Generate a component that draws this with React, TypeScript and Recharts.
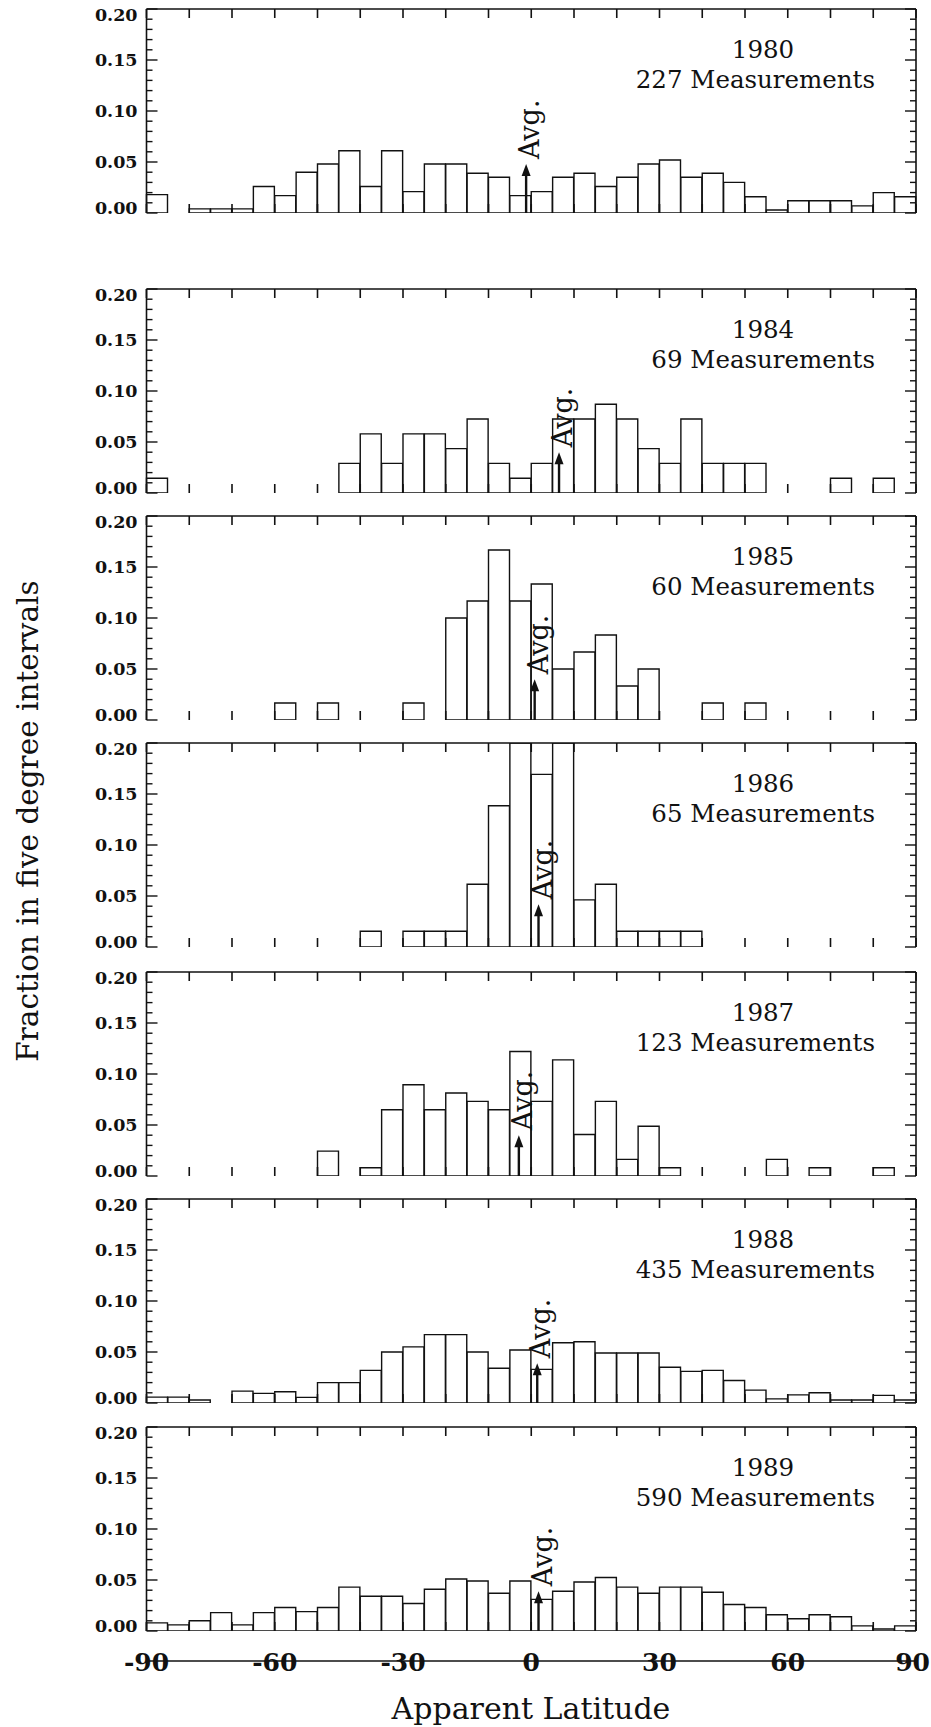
import React from 'react';
import { BarChart, Bar, XAxis, YAxis, ReferenceLine } from 'recharts';

// Five-degree latitude bins (bin centres), -90 .. 90
const BIN_CENTERS = [
  -87.5, -82.5, -77.5, -72.5, -67.5, -62.5, -57.5, -52.5, -47.5, -42.5, -37.5, -32.5,
  -27.5, -22.5, -17.5, -12.5, -7.5, -2.5, 2.5, 7.5, 12.5, 17.5, 22.5, 27.5,
  32.5, 37.5, 42.5, 47.5, 52.5, 57.5, 62.5, 67.5, 72.5, 77.5, 82.5, 87.5,
];

const LAT_TICKS = [-90, -80, -70, -60, -50, -40, -30, -20, -10, 0, 10, 20, 30, 40, 50, 60, 70, 80, 90];
const LAT_LABELS = [-90, -60, -30, 0, 30, 60, 90];
const FRACTION_TICKS = [
  0, 0.01, 0.02, 0.03, 0.04, 0.05, 0.06, 0.07, 0.08, 0.09, 0.1,
  0.11, 0.12, 0.13, 0.14, 0.15, 0.16, 0.17, 0.18, 0.19, 0.2,
];
const FRACTION_LABELS = [0, 0.05, 0.1, 0.15, 0.2];

const YEARS = [1980, 1984, 1985, 1986, 1987, 1988, 1989];
const MEASUREMENTS = [227, 69, 60, 65, 123, 435, 590];
const AVG_LATITUDE = [-1.2, 6.5, 0.8, 1.7, -2.9, 1.4, 1.7];
const AVG_ARROW_TOP = [0.048, 0.04, 0.04, 0.042, 0.04, 0.039, 0.039];

const FRAC_1980 = [
  0.018, 0, 0.004, 0.004, 0.004, 0.026,
  0.017, 0.04, 0.048, 0.061, 0.026, 0.061,
  0.021, 0.048, 0.048, 0.039, 0.035, 0.017,
  0.021, 0.035, 0.039, 0.026, 0.035, 0.048,
  0.052, 0.035, 0.039, 0.03, 0.016, 0.003,
  0.012, 0.012, 0.012, 0.007, 0.02, 0.016,
];
const FRAC_1984 = [
  0.0145, 0, 0, 0, 0, 0,
  0, 0, 0, 0.029, 0.058, 0.029,
  0.058, 0.058, 0.0435, 0.0725, 0.029, 0.0145,
  0.029, 0.0725, 0.0725, 0.087, 0.0725, 0.0435,
  0.029, 0.0725, 0.029, 0.029, 0.029, 0,
  0, 0, 0.0145, 0, 0.0145, 0,
];
const FRAC_1985 = [
  0, 0, 0, 0, 0, 0,
  0.0167, 0, 0.0167, 0, 0, 0,
  0.0167, 0, 0.1, 0.1167, 0.1667, 0.1167,
  0.1333, 0.05, 0.0667, 0.0833, 0.0333, 0.05,
  0, 0, 0.0167, 0, 0.0167, 0,
  0, 0, 0, 0, 0, 0,
];
const FRAC_1986 = [
  0, 0, 0, 0, 0, 0,
  0, 0, 0, 0, 0.0154, 0,
  0.0154, 0.0154, 0.0154, 0.0615, 0.1385, 0.2,
  0.1692, 0.2, 0.0462, 0.0615, 0.0154, 0.0154,
  0.0154, 0.0154, 0, 0, 0, 0,
  0, 0, 0, 0, 0, 0,
];
const FRAC_1987 = [
  0, 0, 0, 0, 0, 0,
  0, 0, 0.0244, 0, 0.0081, 0.065,
  0.0894, 0.065, 0.0813, 0.0732, 0.065, 0.122,
  0.0732, 0.1138, 0.0407, 0.0732, 0.0163, 0.0488,
  0.0081, 0, 0, 0, 0, 0.0163,
  0, 0.0081, 0, 0, 0.0081, 0,
];
const FRAC_1988 = [
  0.0058, 0.0058, 0.003, 0, 0.0116, 0.0094,
  0.011, 0.0055, 0.02, 0.02, 0.032, 0.05,
  0.055, 0.067, 0.067, 0.05, 0.034, 0.052,
  0.033, 0.059, 0.06, 0.049, 0.049, 0.049,
  0.035, 0.031, 0.032, 0.022, 0.0126, 0.004,
  0.008, 0.01, 0.003, 0.003, 0.0075, 0.003,
];
const FRAC_1989 = [
  0.008, 0.006, 0.01, 0.018, 0.006, 0.018,
  0.023, 0.019, 0.023, 0.043, 0.034, 0.034,
  0.027, 0.041, 0.051, 0.049, 0.037, 0.049,
  0.031, 0.039, 0.048, 0.0525, 0.043, 0.037,
  0.043, 0.043, 0.038, 0.026, 0.023, 0.016,
  0.012, 0.016, 0.014, 0.005, 0.002, 0.005,
];

const SERIES = [FRAC_1980, FRAC_1984, FRAC_1985, FRAC_1986, FRAC_1987, FRAC_1988, FRAC_1989];

// Page layout
const PAGE_W = 931;
const PAGE_H = 1727;
const PLOT_LEFT = 146.5;
const PLOT_RIGHT = 916;
const PLOT_H = 204;
const PANEL_TOPS = [9, 288.5, 515.5, 742.5, 971.5, 1199, 1427];
const PAD_TOP = 20;
const TOP_AXIS_H = 10;
const Y_AXIS_W = 60;
const RIGHT_AXIS_W = 10;
const FONT = "'DejaVu Serif', serif";
const INK = '#111';
const X_LABEL_SIZE = 25;

function Panel({ index }: { index: number }) {
  const values = SERIES[index];
  const data = BIN_CENTERS.map((lat, i) => ({ lat, frac: values[i] }));
  const last = index === SERIES.length - 1;
  const bottomAxisH = last ? 70 : 10;
  const height = PAD_TOP + PLOT_H + bottomAxisH + 10;
  const plotTop = PAD_TOP;
  const plotBottom = PAD_TOP + PLOT_H;

  const leftTick = (p: any) => {
    const v = p.payload.value;
    const major = FRACTION_LABELS.some((m) => Math.abs(m - v) < 1e-6);
    const len = major ? 11 : 6;
    let dy = 0;
    if (Math.abs(v) < 1e-6) dy = -5;
    if (Math.abs(v - 0.2) < 1e-6) dy = 6;
    return (
      <g>
        <line x1={PLOT_LEFT} x2={PLOT_LEFT + len} y1={p.y} y2={p.y} stroke={INK} strokeWidth={1.4} />
        {major && (
          <text x={PLOT_LEFT - 9} y={p.y + dy} textAnchor="end" dominantBaseline="central"
            fontFamily={FONT} fontWeight="bold" fontSize={17.5} fill={INK}>
            {v.toFixed(2)}
          </text>
        )}
      </g>
    );
  };

  const rightTick = (p: any) => {
    const v = p.payload.value;
    const major = FRACTION_LABELS.some((m) => Math.abs(m - v) < 1e-6);
    const len = major ? 11 : 6;
    return <line x1={PLOT_RIGHT} x2={PLOT_RIGHT - len} y1={p.y} y2={p.y} stroke={INK} strokeWidth={1.4} />;
  };

  const topTick = (p: any) => (
    <line x1={p.x} x2={p.x} y1={plotTop} y2={plotTop + 9} stroke={INK} strokeWidth={1.6} />
  );

  const bottomTick = (p: any) => {
    const v = p.payload.value;
    const labelled = last && LAT_LABELS.includes(v);
    // keep the right-most label inside the page edge
    const atRightEdge = p.x + X_LABEL_SIZE * 0.72 > PAGE_W;
    return (
      <g>
        <line x1={p.x} x2={p.x} y1={plotBottom} y2={plotBottom - 9} stroke={INK} strokeWidth={1.6} />
        {labelled && (
          <text x={atRightEdge ? PAGE_W - 1 : p.x} y={plotBottom + 31}
            textAnchor={atRightEdge ? 'end' : 'middle'} dominantBaseline="central"
            fontFamily={FONT} fontWeight="bold" fontSize={X_LABEL_SIZE} fill={INK}>
            {String(v)}
          </text>
        )}
      </g>
    );
  };

  const avgShape = (p: any) => {
    const x = p.x1;
    const top = Math.min(p.y1, p.y2);
    const bottom = Math.max(p.y1, p.y2);
    const tx = x + 13;
    const ty = top - 5;
    return (
      <g>
        <line x1={x} x2={x} y1={bottom} y2={top + 8} stroke={INK} strokeWidth={2.4} />
        <polygon points={`${x},${top} ${x - 4.5},${top + 12} ${x + 4.5},${top + 12}`} fill={INK} />
        <text x={tx} y={ty} transform={`rotate(-90, ${tx}, ${ty})`} textAnchor="start"
          fontFamily={FONT} fontSize={27} fill={INK}>
          Avg.
        </text>
      </g>
    );
  };

  return (
    <div style={{ position: 'absolute', left: 0, top: PANEL_TOPS[index] - PAD_TOP }}>
      <BarChart
        width={PAGE_W}
        height={height}
        data={data}
        barCategoryGap={0}
        barGap={0}
        margin={{
          top: PAD_TOP - TOP_AXIS_H,
          left: PLOT_LEFT - Y_AXIS_W,
          right: PAGE_W - PLOT_RIGHT - RIGHT_AXIS_W,
          bottom: 10,
        }}
      >
        <XAxis xAxisId="bins" dataKey="lat" type="category" hide />
        <XAxis
          xAxisId="lat"
          dataKey="lat"
          type="number"
          orientation="bottom"
          domain={[-90, 90]}
          ticks={LAT_TICKS}
          interval={0}
          allowDataOverflow
          height={bottomAxisH}
          tickLine={false}
          axisLine={{ stroke: INK, strokeWidth: 1.6 }}
          tick={bottomTick}
        />
        <XAxis
          xAxisId="latTop"
          dataKey="lat"
          type="number"
          orientation="top"
          domain={[-90, 90]}
          ticks={LAT_TICKS}
          interval={0}
          allowDataOverflow
          height={TOP_AXIS_H}
          tickLine={false}
          axisLine={{ stroke: INK, strokeWidth: 1.6 }}
          tick={topTick}
        />
        <YAxis
          yAxisId="left"
          type="number"
          domain={[0, 0.2]}
          ticks={FRACTION_TICKS}
          interval={0}
          allowDataOverflow
          width={Y_AXIS_W}
          tickLine={false}
          axisLine={{ stroke: INK, strokeWidth: 1.6 }}
          tick={leftTick}
        />
        <YAxis
          yAxisId="right"
          orientation="right"
          type="number"
          domain={[0, 0.2]}
          ticks={FRACTION_TICKS}
          interval={0}
          allowDataOverflow
          width={RIGHT_AXIS_W}
          tickLine={false}
          axisLine={{ stroke: INK, strokeWidth: 1.6 }}
          tick={rightTick}
        />
        <Bar
          xAxisId="bins"
          yAxisId="left"
          dataKey="frac"
          fill="#fff"
          stroke={INK}
          strokeWidth={1.4}
          isAnimationActive={false}
        />
        <ReferenceLine
          xAxisId="lat"
          yAxisId="left"
          segment={[
            { x: AVG_LATITUDE[index], y: 0 },
            { x: AVG_LATITUDE[index], y: AVG_ARROW_TOP[index] },
          ]}
          stroke={INK}
          shape={avgShape}
        />
      </BarChart>
      <div
        style={{
          position: 'absolute', left: 763 - 100, top: PAD_TOP + 41 - 15, width: 200, height: 30,
          lineHeight: '30px', textAlign: 'center', fontFamily: FONT, fontSize: 24.5, color: INK,
        }}
      >
        {YEARS[index]}
      </div>
      <div
        style={{
          position: 'absolute', left: 875 - 400, top: PAD_TOP + 71 - 15, width: 400, height: 30,
          lineHeight: '30px', textAlign: 'right', fontFamily: FONT, fontSize: 24.5, color: INK,
          whiteSpace: 'nowrap',
        }}
      >
        {MEASUREMENTS[index]} Measurements
      </div>
    </div>
  );
}

export default function App() {
  return (
    <div style={{ position: 'relative', width: PAGE_W, height: PAGE_H, background: '#fff', overflow: 'hidden' }}>
      <style>{'body{margin:0;background:#fff}'}</style>
      {SERIES.map((_, i) => (
        <Panel key={YEARS[i]} index={i} />
      ))}
      <div
        style={{
          position: 'absolute', left: 27.5 - 350, top: 821 - 20, width: 700, height: 40,
          lineHeight: '40px', textAlign: 'center', transform: 'rotate(-90deg)',
          fontFamily: FONT, fontSize: 29.5, color: INK, whiteSpace: 'nowrap',
        }}
      >
        Fraction in five degree intervals
      </div>
      <div
        style={{
          position: 'absolute', left: 531 - 300, top: 1709 - 20, width: 600, height: 40,
          lineHeight: '40px', textAlign: 'center', fontFamily: FONT, fontSize: 30, color: INK,
          whiteSpace: 'nowrap',
        }}
      >
        Apparent Latitude
      </div>
    </div>
  );
}
